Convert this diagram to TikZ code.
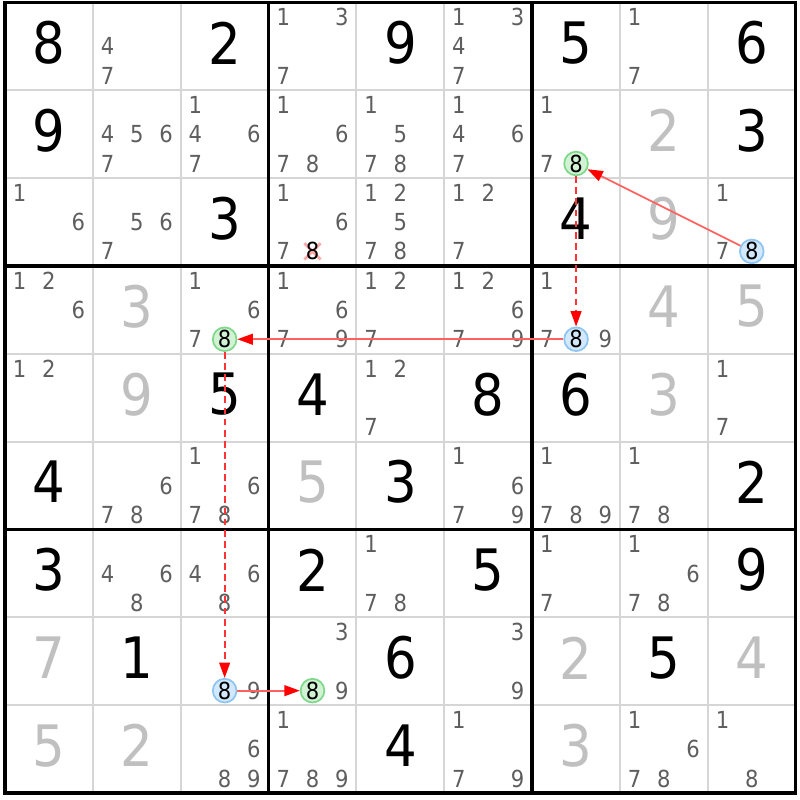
\documentclass[tikz,border=0pt]{standalone}
\usepackage{fontspec}
\setmainfont{DejaVu Sans Condensed}
\usetikzlibrary{arrows.meta}
\definecolor{candgray}{HTML}{5E5E5E}
\definecolor{solvedgray}{HTML}{C0C0C0}
\definecolor{gridgray}{HTML}{D6D6D6}
\definecolor{bluefill}{HTML}{D2E8FC}
\definecolor{blueline}{HTML}{8CC4F4}
\definecolor{greenfill}{HTML}{D2F2D4}
\definecolor{greenline}{HTML}{7ED88A}
\definecolor{crosspink}{HTML}{FFA8A8}
\definecolor{linkpink}{HTML}{FF6060}
% cell helpers: row, column, digit(s)
\newcommand{\clue}[3]{\node[given] (g#1#2) at (#2+.5,#1+.46) {#3};}
\newcommand{\solved}[3]{\node[given,text=solvedgray] (g#1#2) at (#2+.5,#1+.46) {#3};}
\newcommand{\cands}[3]{\foreach \d in {#3}
  \node[cand] (c#1#2\d) at ({#2+(2*mod(\d-1,3)+1)/6},{#1+(2*int((\d-1)/3)+1)/6}) {\d};}
\newcommand{\ringed}[5]{\node[#4] (#5) at ({#2+(2*mod(#3-1,3)+1)/6},{#1+(2*int((#3-1)/3)+1)/6}) {#3};}
\tikzset{
  given/.style={font=\fontsize{18.5}{18.5}\selectfont, inner sep=0pt},
  cand/.style={font=\fontsize{7.6}{7.6}\selectfont, text=candgray, inner sep=0pt},
  oncand/.style={cand, text=black, circle, minimum size=0.27cm, line width=0.55pt},
  bluering/.style={oncand, draw=blueline, fill=bluefill},
  greenring/.style={oncand, draw=greenline, fill=greenfill},
  strong/.style={linkpink, line width=0.55pt, -{Triangle[length=5pt,width=3.5pt,color=red]}},
  weak/.style={red!80, line width=0.6pt, dash pattern=on 2.2pt off 1.4pt, -{Triangle[length=5pt,width=3.5pt,color=red]}}
}
\begin{document}
\begin{tikzpicture}[x=1cm,y=-1cm]
\useasboundingbox[fill=white] (-0.057,-0.028) rectangle (9.049,9.078);
% grid
\foreach \i in {1,...,8} {
  \draw[gridgray, line width=0.65pt] (\i,0) -- (\i,9);
  \draw[gridgray, line width=0.65pt] (0,\i) -- (9,\i);
}
\foreach \i in {0,3,6,9} {
  \draw[line width=1.1pt] (\i,-0.017) -- (\i,9.017);
  \draw[line width=1.1pt] (-0.017,\i) -- (9.017,\i);
}
% row 0
\clue{0}{0}{8} \cands{0}{1}{4,7} \clue{0}{2}{2} \cands{0}{3}{1,3,7} \clue{0}{4}{9}
\cands{0}{5}{1,3,4,7} \clue{0}{6}{5} \cands{0}{7}{1,7} \clue{0}{8}{6}
% row 1
\clue{1}{0}{9} \cands{1}{1}{4,5,6,7} \cands{1}{2}{1,4,6,7} \cands{1}{3}{1,6,7,8}
\cands{1}{4}{1,5,7,8} \cands{1}{5}{1,4,6,7} \cands{1}{6}{1,7} \solved{1}{7}{2} \clue{1}{8}{3}
% row 2
\cands{2}{0}{1,6} \cands{2}{1}{5,6,7} \clue{2}{2}{3} \cands{2}{3}{1,6,7}
\cands{2}{4}{1,2,5,7,8} \cands{2}{5}{1,2,7} \clue{2}{6}{4} \solved{2}{7}{9} \cands{2}{8}{1,7}
% row 3
\cands{3}{0}{1,2,6} \solved{3}{1}{3} \cands{3}{2}{1,6,7} \cands{3}{3}{1,6,7,9}
\cands{3}{4}{1,2,7} \cands{3}{5}{1,2,6,7,9} \cands{3}{6}{1,7,9} \solved{3}{7}{4} \solved{3}{8}{5}
% row 4
\cands{4}{0}{1,2} \solved{4}{1}{9} \clue{4}{2}{5} \clue{4}{3}{4} \cands{4}{4}{1,2,7}
\clue{4}{5}{8} \clue{4}{6}{6} \solved{4}{7}{3} \cands{4}{8}{1,7}
% row 5
\clue{5}{0}{4} \cands{5}{1}{6,7,8} \cands{5}{2}{1,6,7,8} \solved{5}{3}{5} \clue{5}{4}{3}
\cands{5}{5}{1,6,7,9} \cands{5}{6}{1,7,8,9} \cands{5}{7}{1,7,8} \clue{5}{8}{2}
% row 6
\clue{6}{0}{3} \cands{6}{1}{4,6,8} \cands{6}{2}{4,6,8} \clue{6}{3}{2} \cands{6}{4}{1,7,8}
\clue{6}{5}{5} \cands{6}{6}{1,7} \cands{6}{7}{1,6,7,8} \clue{6}{8}{9}
% row 7
\solved{7}{0}{7} \clue{7}{1}{1} \cands{7}{2}{9} \cands{7}{3}{3,9} \clue{7}{4}{6}
\cands{7}{5}{3,9} \solved{7}{6}{2} \clue{7}{7}{5} \solved{7}{8}{4}
% row 8
\solved{8}{0}{5} \solved{8}{1}{2} \cands{8}{2}{6,8,9} \cands{8}{3}{1,7,8,9} \clue{8}{4}{4}
\cands{8}{5}{1,7,9} \solved{8}{6}{3} \cands{8}{7}{1,6,7,8} \cands{8}{8}{1,8}
% eliminated 8
\node[minimum size=0.17cm, inner sep=0pt] (x23) at (3.5,2.8333) {};
\draw[crosspink, line width=0.9pt] (x23.north west) -- (x23.south east)
  (x23.north east) -- (x23.south west);
\node[cand, text=black] (c238) at (3.5,2.8333) {8};
% chain
\ringed{2}{8}{8}{bluering}{b28}
\ringed{1}{6}{8}{greenring}{g16}
\ringed{3}{6}{8}{bluering}{b36}
\ringed{3}{2}{8}{greenring}{g32}
\ringed{7}{2}{8}{bluering}{b72}
\ringed{7}{3}{8}{greenring}{g73}
\draw[strong] (b28) -- (g16);
\draw[weak] (g16) -- (b36);
\draw[strong] (b36) -- (g32);
\draw[weak] (g32) -- (b72);
\draw[strong] (b72) -- (g73);
\end{tikzpicture}
\end{document}
